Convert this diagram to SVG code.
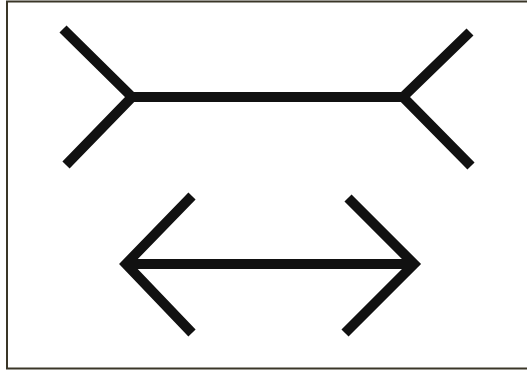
<svg xmlns="http://www.w3.org/2000/svg" width="527" height="372" viewBox="0 0 527 372">
<style>
.fig{fill:none;stroke:#111;stroke-width:10;stroke-linecap:butt;stroke-linejoin:miter;stroke-miterlimit:10}
.frame{fill:#fff;stroke:#3a3628;stroke-width:2}
</style>
<rect x="0" y="0" width="527" height="372" fill="#fff"/>
<rect class="frame" x="7" y="1.5" width="521" height="367"/>
<g id="upper-figure">
<path class="fig" d="M63,29 L132,97 L66,165"/>
<path class="fig" d="M470,32 L403,97 L471,166"/>
<line class="fig" x1="132" y1="97" x2="403" y2="97"/>
</g>
<g id="lower-figure">
<path class="fig" d="M192,196 L126,264 L192,333"/>
<path class="fig" d="M348,198 L414,264 L345,333"/>
<line class="fig" x1="126" y1="264" x2="414" y2="264"/>
</g>
</svg>
